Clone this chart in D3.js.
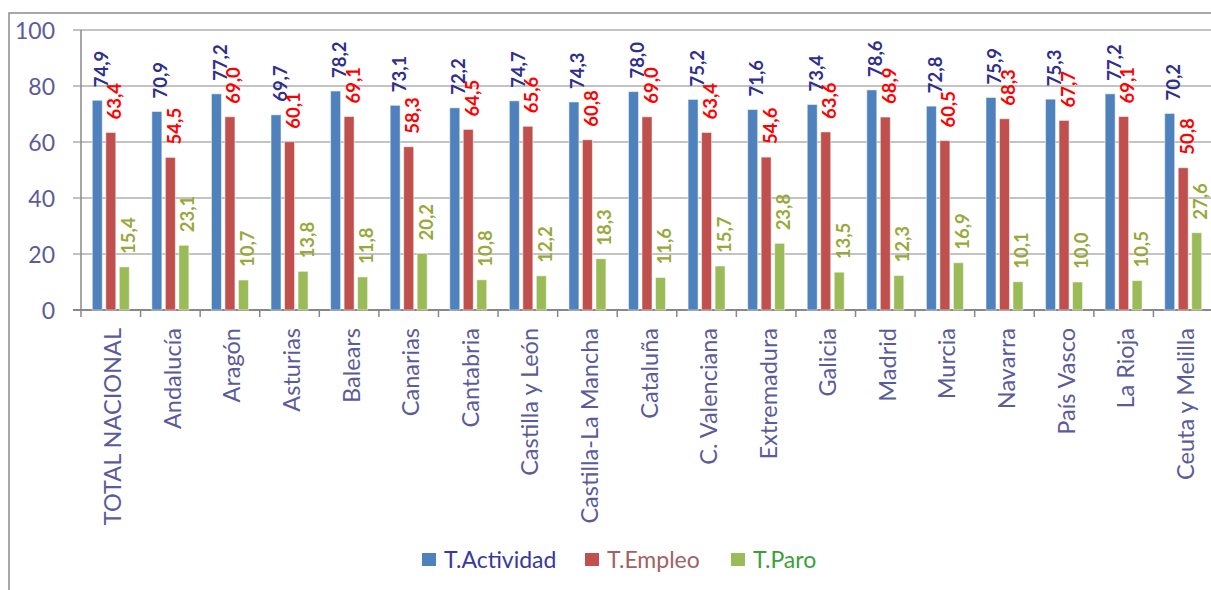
<!DOCTYPE html>
<html>
<head>
<meta charset="utf-8">
<script src="https://cdn.jsdelivr.net/npm/d3@7"></script>
<style>
  html, body { margin: 0; padding: 0; background: #fff; overflow: hidden; }
  svg { display: block; font-family: Lato, "Open Sans", sans-serif; }
</style>
</head>
<body>
<div id="chart"></div>
<script>
const categories = ["TOTAL NACIONAL", "Andalucía", "Aragón", "Asturias", "Balears", "Canarias",
  "Cantabria", "Castilla y León", "Castilla-La Mancha", "Cataluña", "C. Valenciana",
  "Extremadura", "Galicia", "Madrid", "Murcia", "Navarra", "País Vasco", "La Rioja", "Ceuta y Melilla"];
const seriesNames = ["T.Actividad", "T.Empleo", "T.Paro"];
const actividad = [74.9, 70.9, 77.2, 69.7, 78.2, 73.1, 72.2, 74.7, 74.3, 78.0, 75.2, 71.6, 73.4, 78.6, 72.8, 75.9, 75.3, 77.2, 70.2];
const empleo    = [63.4, 54.5, 69.0, 60.1, 69.1, 58.3, 64.5, 65.6, 60.8, 69.0, 63.4, 54.6, 63.6, 68.9, 60.5, 68.3, 67.7, 69.1, 50.8];
const paro      = [15.4, 23.1, 10.7, 13.8, 11.8, 20.2, 10.8, 12.2, 18.3, 11.6, 15.7, 23.8, 13.5, 12.3, 16.9, 10.1, 10.0, 10.5, 27.6];
const yTicks = [0, 20, 40, 60, 80, 100];

const width = 1211, height = 590;
const margin = {top: 30, left: 81, bottom: 280};
const plotRight = 1213;
const colors = {
  bar: ["#4f81bd", "#c0504d", "#9bbb59"],
  label: ["#2e2e8c", "#ff0000", "#99a83a"],
  legend: ["#38389e", "#a06262", "#38a038"],
  axisText: "#5b5b9b",
  grid: "#888888"
};

const values = [actividad, empleo, paro];
const rows = categories.map((c, i) => ({cat: c, vals: values.map((v, s) => ({s, v: v[i]}))}));

const svg = d3.select("#chart").append("svg")
  .attr("width", width).attr("height", height);

//FRAME
svg.append("path")
  .attr("d", `M9,${height + 5} L9,13 L${width + 5},13`)
  .attr("fill", "none").attr("stroke", "#8c8c8c").attr("stroke-width", 1.5);

//SCALES
const y = d3.scaleLinear().domain([0, 100]).range([height - margin.bottom, margin.top]);
const x0 = d3.scaleBand().domain(categories).range([margin.left, plotRight]);
const groupW = 37;
const x1 = d3.scaleBand().domain(d3.range(3)).range([0, groupW]).paddingInner(0.26);
const offset = (x0.bandwidth() - groupW) / 2;

//GRID + Y AXIS
svg.append("g").selectAll("line").data(yTicks).join("line")
  .attr("x1", margin.left - 8).attr("x2", plotRight)
  .attr("y1", d => y(d)).attr("y2", d => y(d))
  .attr("stroke", colors.grid).attr("stroke-width", d => d === 0 ? 2 : 1.2);

svg.append("line")
  .attr("x1", margin.left).attr("x2", margin.left)
  .attr("y1", y(100)).attr("y2", y(0) + 7)
  .attr("stroke", colors.grid).attr("stroke-width", 1.5);

svg.append("g").selectAll("text").data(yTicks).join("text")
  .attr("x", 55).attr("y", d => y(d))
  .attr("text-anchor", "end").attr("dominant-baseline", "central")
  .attr("fill", colors.axisText).attr("font-size", 23)
  .text(d => d);

//X AXIS TICKS + LABELS
svg.append("g").selectAll("line").data(categories.slice(1)).join("line")
  .attr("x1", d => x0(d)).attr("x2", d => x0(d))
  .attr("y1", y(0)).attr("y2", y(0) + 7)
  .attr("stroke", colors.grid).attr("stroke-width", 1.5);

svg.append("g").selectAll("text").data(categories).join("text")
  .attr("transform", d => `translate(${x0(d) + x0.bandwidth() / 2 + 10.5}, ${y(0) + 18}) rotate(-90)`)
  .attr("text-anchor", "end")
  .attr("fill", colors.axisText).attr("font-size", 23.5)
  .text(d => d);

//BARS
const groups = svg.append("g").selectAll("g").data(rows).join("g")
  .attr("transform", d => `translate(${x0(d.cat) + offset},0)`);

groups.selectAll("rect").data(d => d.vals).join("rect")
  .attr("x", d => x1(d.s)).attr("width", x1.bandwidth())
  .attr("y", d => y(d.v)).attr("height", d => y(0) - y(d.v))
  .attr("fill", d => colors.bar[d.s])
  .attr("stroke", "#ffffff").attr("stroke-opacity", 0.5).attr("stroke-width", 1);

//DATA LABELS
groups.selectAll("text").data(d => d.vals).join("text")
  .attr("transform", d => `translate(${x1(d.s) + x1.bandwidth() / 2 + 10.5}, ${y(d.v) - 13}) rotate(-90)`)
  .attr("fill", d => colors.label[d.s])
  .attr("font-size", 18.5).attr("font-weight", "bold")
  .text(d => d3.format(".1f")(d.v).replace(".", ","));

//LEGEND
const legendX = [422, 585, 731];
const legend = svg.append("g").selectAll("g").data(seriesNames).join("g")
  .attr("transform", (d, i) => `translate(${legendX[i]}, 553)`);
legend.append("rect").attr("width", 14).attr("height", 13)
  .attr("fill", (d, i) => colors.bar[i]);
legend.append("text").attr("x", 22).attr("y", 15)
  .attr("fill", (d, i) => colors.legend[i]).attr("font-size", 23)
  .text(d => d);
</script>
</body>
</html>
